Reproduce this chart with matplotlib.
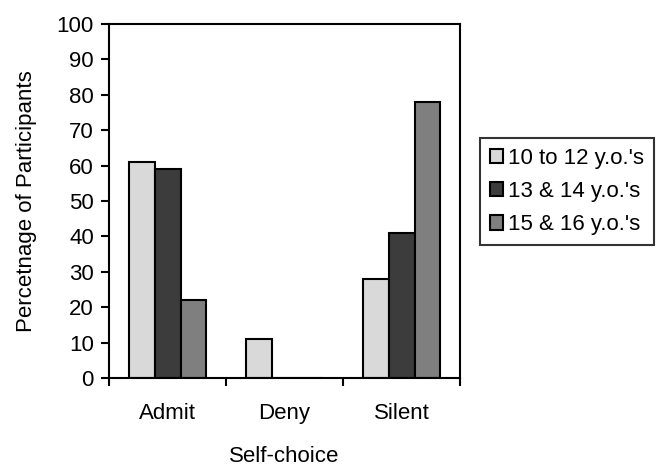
import numpy as np
import matplotlib.pyplot as plt

plt.rcParams['font.family'] = ['Liberation Sans', 'DejaVu Sans']

categories = ['Admit', 'Deny', 'Silent']
series_names = ["10 to 12 y.o.'s", "13 & 14 y.o.'s", "15 & 16 y.o.'s"]
age_10_12 = [61, 11, 28]
age_13_14 = [59, 0, 41]
age_15_16 = [22, 0, 78]
colors = ['#d9d9d9', '#3c3c3c', '#7f7f7f']

fs = 16
fig = plt.figure(figsize=(6.64, 4.69), dpi=100)
ax = fig.add_axes([0.1642, 0.194, 0.5286, 0.7548])

x = np.arange(len(categories))
w = 0.222
for i, (vals, c, name) in enumerate(zip([age_10_12, age_13_14, age_15_16], colors, series_names)):
    ax.bar(x + (i - 1) * w, vals, w, color=c, edgecolor='black', linewidth=1.5, label=name)

ax.set_xlim(-0.5, 2.5)
ax.set_ylim(0, 100)
ax.set_yticks(range(0, 101, 10))
ax.set_xticks(x)
ax.set_xticklabels(categories)
# category boundaries get the tick marks, names sit between them
ax.set_xticks(np.arange(-0.5, 3, 1), minor=True)
ax.tick_params(axis='x', which='major', length=0, pad=18)
ax.tick_params(axis='x', which='minor', length=6, width=1.5)
ax.tick_params(axis='y', length=6, width=1.5, pad=5)
ax.tick_params(labelsize=fs)
for s in ax.spines.values():
    s.set_linewidth(1.5)

ax.set_xlabel('Self-choice', fontsize=fs, labelpad=16)
ax.set_ylabel('Percetnage of Participants', fontsize=fs, labelpad=14)

leg = fig.legend(loc='upper left', bbox_to_anchor=(0.723, 0.706), fontsize=fs,
                 frameon=True, fancybox=False, edgecolor='black', handlelength=0.6,
                 handleheight=0.6, handletextpad=0.2, borderpad=0.45, labelspacing=0.55,
                 borderaxespad=0)
leg.get_frame().set_linewidth(1.5)

fig.savefig('out.png', dpi=100)
